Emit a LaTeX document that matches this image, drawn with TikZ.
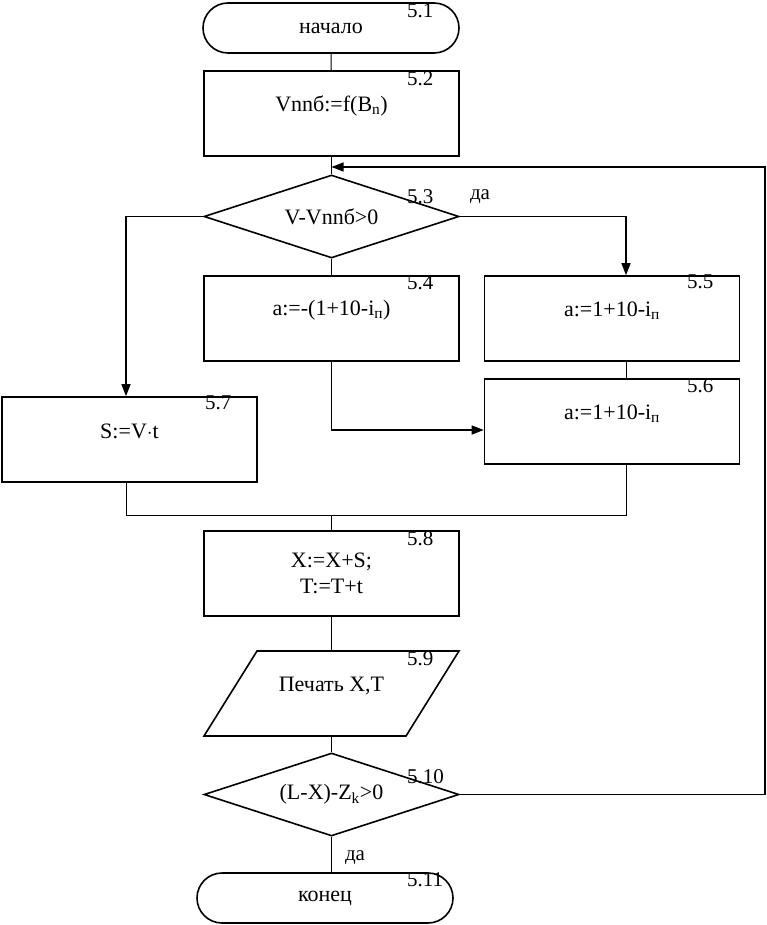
\documentclass[tikz,border=0pt]{standalone}
\usepackage{fontspec}
\setmainfont{Liberation Serif}
\usetikzlibrary{arrows.meta,shapes.geometric,shapes.misc}
\begin{document}
\begin{tikzpicture}[x=1pt,y=-1pt,
  every node/.style={font=\fontsize{22}{26}\selectfont, inner sep=0pt},
  shapeline/.style={draw, line width=1.6pt},
  procbox/.style={shapeline, rectangle, minimum width=255pt, minimum height=85pt},
  termbox/.style={shapeline, rounded rectangle, minimum width=256pt, minimum height=50pt},
  decbox/.style={shapeline, diamond, aspect=3.07, minimum width=255pt, minimum height=83pt},
  conn/.style={line width=1pt},
  arr/.style={line width=1.4pt, -{Triangle[length=12pt,width=9pt]}},
  numlabel/.style={anchor=north west, font=\fontsize{21}{24}\selectfont},
  smalltext/.style={font=\fontsize{21}{24}\selectfont},
  txtup/.style={label={[yshift=8pt]center:#1}}
]
\useasboundingbox (0,0) rectangle (766,925);

% nodes
\node[termbox] (t1) at (331,28) {начало};
\node[procbox, txtup={Vnnб:=f(B\textsubscript{n})}] (b2) at (331.5,113.5) {};
\node[decbox] (d3) at (331.5,216.5) {V-Vnnб>0};
\node[procbox, txtup={a:=-(1+10-i\textsubscript{п})}] (b4) at (331.5,318.5) {};
\node[procbox, txtup={a:=1+10-i\textsubscript{п}}] (b5) at (612,318.5) {};
\node[procbox, txtup={a:=1+10-i\textsubscript{п}}] (b6) at (612,421.5) {};
\node[procbox, txtup={S:=V$\cdot$t}] (b7) at (129.5,439.5) {};
\node[procbox, align=center] (b8) at (331.5,573.5) {X:=X+S;\\T:=T+t};
\node[rectangle, minimum width=255pt, minimum height=85pt] (p9) at (331.5,693.5) {};
\node at ([yshift=8pt]p9.center) {Печать X,T};
\draw[shapeline] (257,651) -- (459,651) -- (406,736) -- (204,736) -- cycle;
\node[decbox] (d10) at (331.5,794.5) {(L-X)-Z\textsubscript{k}>0};
\node[termbox] (t11) at (325,898) {конец};

% number labels
\node[numlabel] at (407,3) {5.1};
\node[numlabel] at (407,71) {5.2};
\node[numlabel] at (407,189) {5.3};
\node[numlabel] at (407,275) {5.4};
\node[numlabel] at (687,275) {5.5};
\node[numlabel] at (687,378) {5.6};
\node[numlabel] at (205,396) {5.7};
\node[numlabel] at (407,769) {5.10};
\node[numlabel] at (407,531) {5.8};
\node[numlabel] at (407,651) {5.9};
\node[numlabel] at (407,872) {5.11};
\node[smalltext] at (480,197) {да};
\node[smalltext] at (355,858) {да};

% coordinates
\coordinate (mL) at (126,515);
\coordinate (mR) at (626,515);
\coordinate (mC) at (331.5,515);

% connectors
\draw[conn] (t1) -- (b2);
\draw[conn] (b2) -- (d3);
\draw[arr] (d3.west) -| (b7.north -| 126,0);
\draw[arr] (d3.east) -| (b5.north -| 626,0);
\draw[conn] (d3) -- (b4);
\draw[conn] (b5.south -| 626,0) -- (b6.north -| 626,0);
\draw[arr] (b4) |- (b6.west |- 0,430);
\draw[conn] (b7.south -| 126,0) -- (mL) -- (mR) -- (b6.south -| 626,0);
\draw[conn] (mC) -- (b8);
\draw[conn] (b8) -- (p9);
\draw[conn] (p9) -- (d10);
\draw[conn] (d10.south) -- (d10.south |- t11.north);
\draw[arr] (d10.east) -- ++(305,0) |- (b2.south |- 0,167);
\end{tikzpicture}
\end{document}
